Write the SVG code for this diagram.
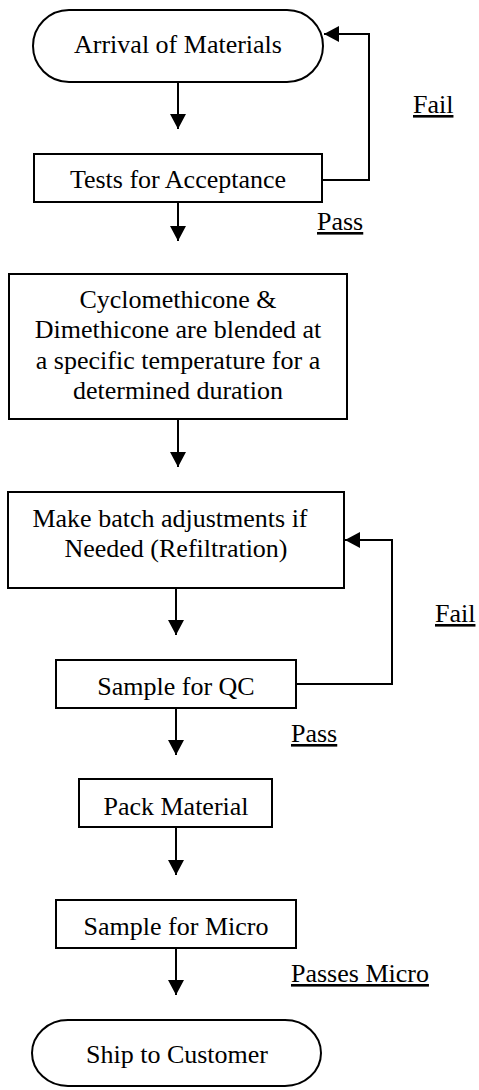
<svg xmlns="http://www.w3.org/2000/svg" width="479" height="1090" viewBox="0 0 479 1090">
<style>
  .box { fill: #fff; stroke: #000; stroke-width: 2; }
  .t { font-family: 'Liberation Serif', 'DejaVu Serif', serif; font-size: 26px; fill: #000; text-anchor: middle; }
  .lbl { font-family: 'Liberation Serif', 'DejaVu Serif', serif; font-size: 26px; fill: #000; text-decoration: underline; }
  .c { fill: none; stroke: #000; stroke-width: 2; marker-end: url(#ah); }
</style>
<defs>
  <marker id="ah" markerUnits="userSpaceOnUse" markerWidth="16" markerHeight="16" refX="15" refY="8" orient="auto">
    <path d="M0,0 L15,8 L0,16 z" fill="#000"/>
  </marker>
</defs>
<rect width="479" height="1090" fill="#fff"/>
<g id="connectors">
  <path class="c" d="M178,82 V129"/>
  <path class="c" d="M322,180 H369 V34 H324"/>
  <path class="c" d="M178,202 V241"/>
  <path class="c" d="M178,419 V467"/>
  <path class="c" d="M176,588 V635"/>
  <path class="c" d="M296,684 H392 V540 H345"/>
  <path class="c" d="M176,708 V755"/>
  <path class="c" d="M176,827 V875"/>
  <path class="c" d="M176,948 V995"/>
</g>
<g id="labels">
  <text class="lbl" x="413" y="113">Fail</text>
  <text class="lbl" x="317" y="230">Pass</text>
  <text class="lbl" x="435" y="622">Fail</text>
  <text class="lbl" x="291" y="742">Pass</text>
  <text class="lbl" x="291" y="982">Passes Micro</text>
</g>
<g id="arrival">
  <rect class="box" x="33" y="10" width="290" height="72" rx="36" ry="36"/>
  <text class="t" x="178" y="53">Arrival of Materials</text>
</g>
<g id="tests">
  <rect class="box" x="34" y="154" width="288" height="48"/>
  <text class="t" x="178" y="188">Tests for Acceptance</text>
</g>
<g id="blend">
  <rect class="box" x="9" y="274" width="338" height="145"/>
  <text class="t" x="178" y="308">Cyclomethicone &amp;</text>
  <text class="t" x="178" y="338">Dimethicone are blended at</text>
  <text class="t" x="178" y="369">a specific temperature for a</text>
  <text class="t" x="178" y="399">determined duration</text>
</g>
<g id="adjust">
  <rect class="box" x="8" y="492" width="336" height="96"/>
  <text class="t" x="170" y="527">Make batch adjustments if</text>
  <text class="t" x="176" y="557">Needed (Refiltration)</text>
</g>
<g id="qc">
  <rect class="box" x="56" y="660" width="240" height="48"/>
  <text class="t" x="176" y="695">Sample for QC</text>
</g>
<g id="pack">
  <rect class="box" x="79" y="779" width="193" height="48"/>
  <text class="t" x="176" y="815">Pack Material</text>
</g>
<g id="micro">
  <rect class="box" x="56" y="900" width="240" height="48"/>
  <text class="t" x="176" y="935">Sample for Micro</text>
</g>
<g id="ship">
  <rect class="box" x="32" y="1020" width="289" height="66" rx="36" ry="33"/>
  <text class="t" x="177" y="1063">Ship to Customer</text>
</g>
</svg>
